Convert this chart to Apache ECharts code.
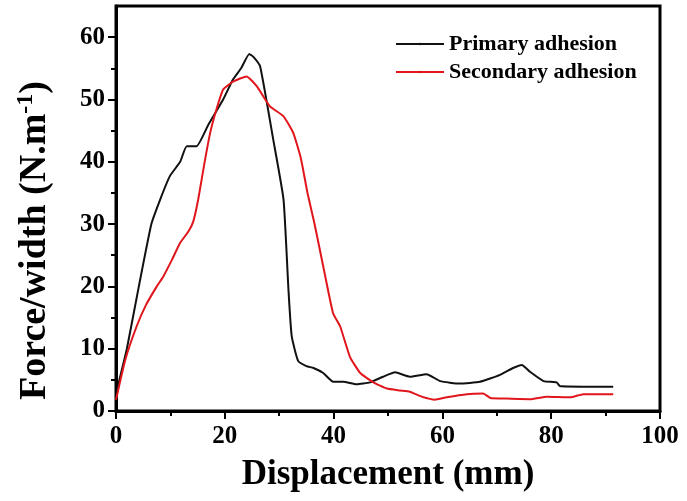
<!DOCTYPE html>
<html>
<head>
<meta charset="utf-8">
<script src="https://cdn.jsdelivr.net/npm/echarts@6/dist/echarts.min.js"></script>
<style>
  html, body { margin: 0; padding: 0; background: #fff; }
  #chart { width: 687px; height: 501px; }
</style>
</head>
<body>
<div id="chart"></div>
<script>
var primaryX = [0, 0.5, 2.0, 4.2, 6.5, 8.1, 9.9, 11.8, 13, 14.8, 17, 19.7, 21.5, 23, 24.5, 25.3, 26.5, 28.9, 30.8, 31.7, 32.3, 33.5, 35, 36.3, 38.1, 39.9, 41.8, 44.2, 46.7, 49.1, 51.3, 54, 57.1, 59.6, 63.2, 66.9, 70.6, 73, 74.6, 76.1, 78.6, 81, 81.6, 86, 91.4]
var primaryY = [1.8, 4.5, 10, 20, 30, 33.9, 37.7, 40, 42.5, 42.5, 46, 50, 53.2, 55, 57.3, 56.8, 55.3, 43.6, 33.9, 19.5, 12, 8, 7.2, 6.9, 6.1, 4.7, 4.7, 4.3, 4.6, 5.5, 6.2, 5.5, 5.9, 4.8, 4.4, 4.7, 5.8, 6.9, 7.4, 6.3, 4.8, 4.6, 4.0, 3.9, 3.9]

var secondaryX = [0, 1.7, 3.8, 5.5, 7.5, 8.7, 10.3, 11.8, 13.3, 14.2, 15.1, 16.2, 17.3, 18.5, 19.7, 21.6, 24, 25.9, 28.3, 30.8, 32.6, 34, 35.2, 36.5, 38.1, 39.9, 41.2, 43, 44.9, 47.3, 49.8, 52.2, 54, 56.2, 58.6, 60.8, 64.5, 67.5, 68.8, 71.8, 76.1, 79.2, 83.5, 85.9, 91.4]
var secondaryY = [1.8, 8.2, 13.6, 17, 20, 21.6, 24.3, 27, 28.8, 30.4, 33.9, 39.5, 44.6, 48.5, 51.6, 52.9, 53.7, 52.1, 48.9, 47.3, 44.6, 40.5, 35, 30, 23.2, 15.7, 13.6, 8.7, 6.1, 4.6, 3.6, 3.3, 3.1, 2.3, 1.8, 2.2, 2.7, 2.8, 2.1, 2.0, 1.9, 2.3, 2.2, 2.7, 2.7]

var yMajorTicks = [0, 10, 20, 30, 40, 50, 60]
var yMinorTicks = [5, 15, 25, 35, 45, 55]

function pairs(xs, ys) {
  var out = []
  for (var i = 0; i < xs.length; i++) {
    out.push([xs[i], ys[i]])
  }
  return out
}

var font = '"Liberation Serif", "Times New Roman", serif'
var chart = echarts.init(document.getElementById('chart'))

chart.setOption({
  animation: false,
  grid: {
    left: 116,
    right: 27,
    top: 6,
    bottom: 90,
    show: true,
    borderColor: '#000',
    borderWidth: 3
  },
  legend: {
    orient: 'vertical',
    left: 390,
    top: 28,
    itemWidth: 48,
    itemHeight: 3,
    itemGap: 6,
    textStyle: { fontFamily: font, fontWeight: 'bold', fontSize: 22, color: '#000' },
    data: ['Primary adhesion', 'Secondary adhesion']
  },
  xAxis: {
    type: 'value',
    min: 0,
    max: 100,
    interval: 20,
    name: 'Displacement (mm)',
    nameLocation: 'middle',
    nameGap: 46,
    nameTextStyle: { fontFamily: font, fontWeight: 'bold', fontSize: 35, color: '#000' },
    splitLine: { show: false },
    axisLine: { lineStyle: { color: '#000', width: 3 } },
    axisTick: { length: 8, lineStyle: { color: '#000', width: 2 } },
    minorTick: { show: true, splitNumber: 2, length: 5, lineStyle: { color: '#000', width: 2 } },
    axisLabel: { margin: 13, fontFamily: font, fontWeight: 'bold', fontSize: 25, color: '#000' }
  },
  yAxis: [
    {
      type: 'value',
      min: 0,
      max: 65,
      interval: 10,
      name: 'Force/width (N.m{sup|-1})',
      nameLocation: 'middle',
      nameGap: 60,
      nameTextStyle: {
        fontFamily: font, fontWeight: 'bold', fontSize: 38, color: '#000',
        padding: [0, 64, 0, 0],
        rich: {
          sup: { fontFamily: font, fontWeight: 'bold', fontSize: 24, color: '#000', verticalAlign: 'top', padding: [0, 0, 18, 0] }
        }
      },
      splitLine: { show: false },
      axisLine: { lineStyle: { color: '#000', width: 3 } },
      axisTick: { length: 8, customValues: yMajorTicks, lineStyle: { color: '#000', width: 2 } },
      axisLabel: { margin: 11, customValues: yMajorTicks, fontFamily: font, fontWeight: 'bold', fontSize: 25, color: '#000' }
    },
    {
      // second left axis only for the short minor ticks
      type: 'value',
      position: 'left',
      min: 0,
      max: 65,
      splitLine: { show: false },
      axisLine: { show: false },
      axisTick: { length: 5, customValues: yMinorTicks, lineStyle: { color: '#000', width: 2 } },
      axisLabel: { show: false }
    }
  ],
  series: [
    {
      name: 'Primary adhesion',
      type: 'line',
      symbol: 'none',
      smooth: 0.15,
      data: pairs(primaryX, primaryY),
      lineStyle: { color: '#111', width: 2 },
      itemStyle: { color: '#111' }
    },
    {
      name: 'Secondary adhesion',
      type: 'line',
      symbol: 'none',
      smooth: 0.15,
      data: pairs(secondaryX, secondaryY),
      lineStyle: { color: '#e0161c', width: 2 },
      itemStyle: { color: '#e0161c' }
    }
  ]
})
</script>
</body>
</html>
